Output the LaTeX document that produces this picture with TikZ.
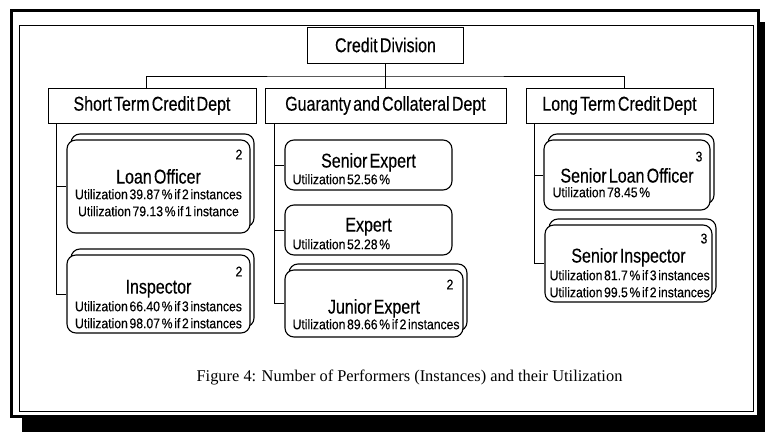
\documentclass[tikz,border=0pt]{standalone}
\usepackage{fontspec}
\usetikzlibrary{shadows}
\newfontfamily\orgfont[FakeStretch=0.8, FakeBold=0.3, WordSpace=0.5]{Liberation Sans}
\newfontfamily\utilfont[FakeStretch=0.87, FakeBold=0.2, WordSpace=0.5]{Liberation Sans}
\newfontfamily\figfont{Liberation Serif}
\newcommand{\deptsize}{\orgfont\fontsize{20}{22}\selectfont}
\newcommand{\utilsize}{\utilfont\fontsize{14}{17}\selectfont}
\tikzset{
  dept/.style={draw, fill=white, line width=0.9pt, font=\deptsize, inner sep=0pt},
  job/.style={draw, fill=white, rounded corners=9pt, line width=1.1pt},
  jobs/.style={job, copy shadow={shadow xshift=4pt, shadow yshift=6pt, draw=black, fill=white, line width=1.1pt}},
  jobtitle/.style={font=\deptsize, inner sep=0pt, anchor=base},
  util/.style={font=\utilsize, inner sep=0pt},
  inst/.style={font=\utilsize, inner sep=0pt, anchor=north east},
  link/.style={line width=0.8pt},
}
\begin{document}
\begin{tikzpicture}[x=1pt, y=-1pt]
\useasboundingbox (0,0) rectangle (765,431);
% frame with shadow
\fill (22,22) rectangle (767,433);
\draw[line width=3pt, fill=white] (11.5,10.5) rectangle (758.5,416);
\draw[line width=0.8pt] (19,25) rectangle (753,411);

% top and departments
\node[dept, minimum width=156, minimum height=36] (div) at (385.5,45) {Credit Division};
\node[dept, minimum width=208, minimum height=35] (st) at (152,105.5) {Short Term Credit Dept};
\node[dept, minimum width=241, minimum height=35] (gc) at (385.5,105.5) {Guaranty and Collateral Dept};
\node[dept, minimum width=187, minimum height=35] (lt) at (619.5,105.5) {Long Term Credit Dept};
\coordinate (bus) at (385.5,76);
\draw[link] (div.south) -- (gc.north);
\draw[link] ([xshift=-6pt]st.north) |- (bus) -| ([xshift=4.5pt]lt.north);

% short term credit
\node[jobs, minimum width=183, minimum height=93] (lo) at (158.5,186.5) {};
\node[inst] at ([shift={(-8pt,-10pt)}]lo.north east) {2};
\node[jobtitle] at ([yshift=50pt]lo.south) {Loan Officer};
\node[util, anchor=south, align=center] at ([yshift=17pt]lo.south) {Utilization 39.87 \% if 2 instances\\Utilization 79.13 \% if 1 instance};

\node[jobs, minimum width=183, minimum height=78] (insp) at (158.5,294) {};
\node[inst] at ([shift={(-8pt,-12pt)}]insp.north east) {2};
\node[jobtitle] at ([yshift=40pt]insp.south) {Inspector};
\node[util, anchor=south, align=center] at ([yshift=5pt]insp.south) {Utilization 66.40 \% if 3 instances\\Utilization 98.07 \% if 2 instances};

\draw[link] ([xshift=9pt]st.south west) |- (lo.west);
\draw[link] ([xshift=9pt]st.south west) |- (insp.west);

% guaranty and collateral
\node[job, minimum width=167, minimum height=50] (se) at (368.5,165) {};
\node[jobtitle] at ([yshift=23pt]se.south) {Senior Expert};
\node[util, anchor=south west] at ([shift={(8pt,6pt)}]se.south west) {Utilization 52.56 \%};

\node[job, minimum width=167, minimum height=50] (ex) at (368.5,230) {};
\node[jobtitle] at ([yshift=24pt]ex.south) {Expert};
\node[util, anchor=south west] at ([shift={(8pt,6pt)}]ex.south west) {Utilization 52.28 \%};

\node[jobs, minimum width=178, minimum height=67] (je) at (374,303.5) {};
\node[inst] at ([shift={(-10pt,-10pt)}]je.north east) {2};
\node[jobtitle] at ([yshift=24pt]je.south) {Junior Expert};
\node[util, anchor=south west] at ([shift={(8pt,8pt)}]je.south west) {Utilization 89.66 \% if 2 instances};

\draw[link] ([xshift=10pt]gc.south west) |- (se.west);
\draw[link] ([xshift=10pt]gc.south west) |- (ex.west);
\draw[link] ([xshift=10pt]gc.south west) |- (je.west);

% long term credit
\node[jobs, minimum width=166, minimum height=70] (slo) at (627,175) {};
\node[inst] at ([shift={(-8pt,-12pt)}]slo.north east) {3};
\node[jobtitle] at ([yshift=28pt]slo.south) {Senior Loan Officer};
\node[util, anchor=south west] at ([shift={(9pt,13pt)}]slo.south west) {Utilization 78.45 \%};

\node[jobs, minimum width=167, minimum height=77] (si) at (628.5,263.5) {};
\node[inst] at ([shift={(-5pt,-9pt)}]si.north east) {3};
\node[jobtitle] at ([yshift=40pt]si.south) {Senior Inspector};
\node[util, anchor=south west, align=left] at ([shift={(5pt,5pt)}]si.south west) {\fontsize{14}{15}\selectfont Utilization 81.7 \% if 3 instances\\Utilization 99.5 \% if 2 instances};

\draw[link] ([xshift=9pt]lt.south west) |- (slo.west);
\draw[link] ([xshift=9pt]lt.south west) |- (si.west);

% caption
\node[font=\figfont\fontsize{16.4}{18}\selectfont, inner sep=0pt] (cap) at (409.5,377) {Figure 4: Number of Performers (Instances) and their Utilization};
\end{tikzpicture}
\end{document}
